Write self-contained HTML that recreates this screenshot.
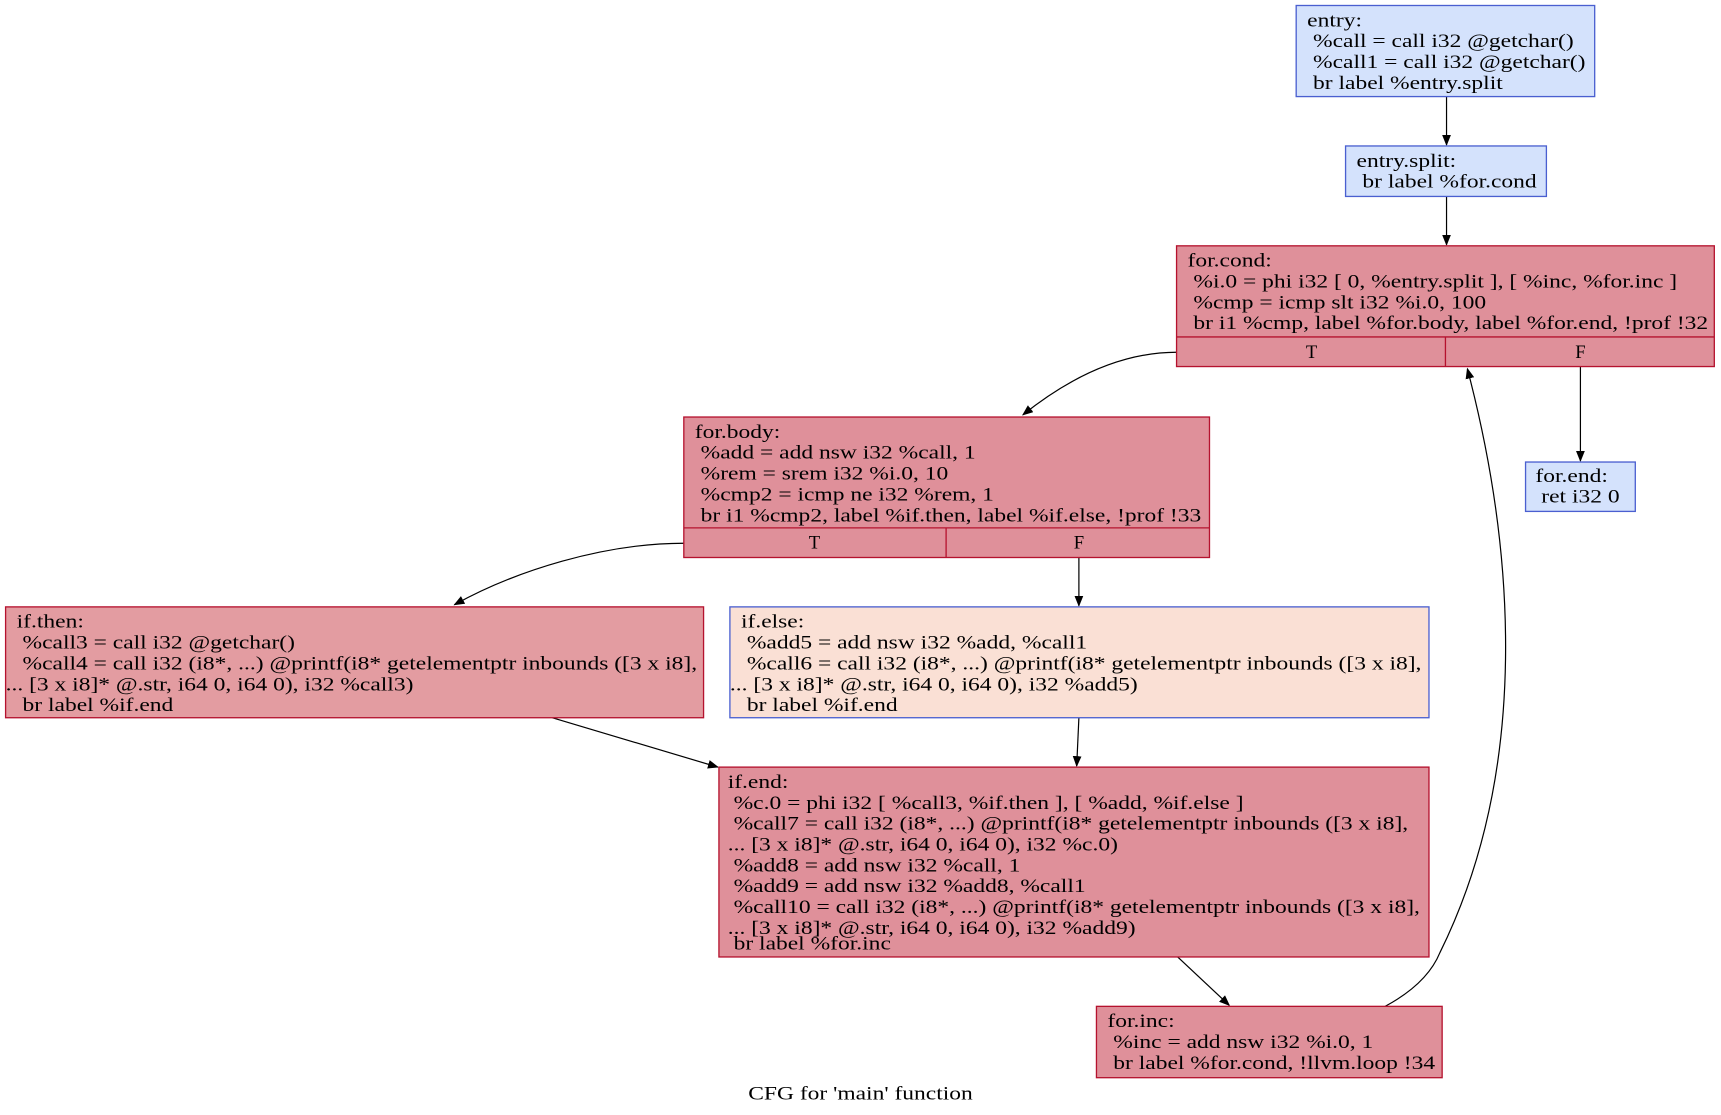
<!DOCTYPE html>
<html><head><meta charset="utf-8"><style>
html,body{margin:0;padding:0;background:#fff;}
svg{display:block;}
text{font-family:"Liberation Serif",serif;font-size:17px;fill:#000;white-space:pre;}
.b{fill:#d4e2fc;stroke:#4a5fd0;stroke-width:1.2}
.r{fill:#df909a;stroke:#b5122e;stroke-width:1.2}
.r2{fill:#e39ca1;stroke:#b5122e;stroke-width:1.2}
.o{fill:#fae0d5;stroke:#4a5fd0;stroke-width:1.2}
.e{fill:none;stroke:#000;stroke-width:1.1}
</style></head><body>
<svg width="1721" height="1115" viewBox="0 0 1568 1016" xmlns="http://www.w3.org/2000/svg">
<defs><marker id="a" markerWidth="10" markerHeight="8" refX="9" refY="4" orient="auto" markerUnits="userSpaceOnUse"><path d="M0,0 L10,4 L0,8 z" fill="#000"/></marker></defs>

<!-- edges -->
<path class="e" d="M1318,88 L1318,132" marker-end="url(#a)"/>
<path class="e" d="M1318,179 L1318,223" marker-end="url(#a)"/>
<path class="e" d="M1072,321 C1020,321 972,346 932,378" marker-end="url(#a)"/>
<path class="e" d="M1440,334 L1440,420" marker-end="url(#a)"/>
<path class="e" d="M623,495 C550,495 470,520 414,551" marker-end="url(#a)"/>
<path class="e" d="M983,508 L983,552" marker-end="url(#a)"/>
<path class="e" d="M503,654 L654,699" marker-end="url(#a)"/>
<path class="e" d="M983,654 L981,698" marker-end="url(#a)"/>
<path class="e" d="M1073,872 L1120,916" marker-end="url(#a)"/>
<path class="e" d="M1262,917 C1290,902 1305,885 1312,868 C1395,700 1380,500 1337,336" marker-end="url(#a)"/>

<!-- entry -->
<rect class="b" x="1181" y="5" width="272" height="83"/>
<g transform="matrix(1.26,0,0,1,-309.66,0)">
<text x="1191" y="24">entry:</text>
<text x="1191" y="43"> %call = call i32 @getchar()</text>
<text x="1191" y="62"> %call1 = call i32 @getchar()</text>
<text x="1191" y="81"> br label %entry.split</text>
</g>

<!-- entry.split -->
<rect class="b" x="1226" y="133" width="183" height="46"/>
<g transform="matrix(1.26,0,0,1,-321.36,0)">
<text x="1236" y="152">entry.split:</text>
<text x="1236" y="171"> br label %for.cond</text>
</g>

<!-- for.cond -->
<rect class="r" x="1072" y="224" width="490" height="110"/>
<line x1="1072" y1="307" x2="1562" y2="307" stroke="#b5122e" stroke-width="1.2"/>
<line x1="1317" y1="307" x2="1317" y2="334" stroke="#b5122e" stroke-width="1.2"/>
<g transform="matrix(1.26,0,0,1,-281.32,0)">
<text x="1082" y="243">for.cond:</text>
<text x="1082" y="262"> %i.0 = phi i32 [ 0, %entry.split ], [ %inc, %for.inc ]</text>
<text x="1082" y="281"> %cmp = icmp slt i32 %i.0, 100</text>
<text x="1082" y="300"> br i1 %cmp, label %for.body, label %for.end, !prof !32</text>
</g>
<text x="1195" y="326" text-anchor="middle">T</text>
<text x="1440" y="326" text-anchor="middle">F</text>

<!-- for.end -->
<rect class="b" x="1390" y="421" width="100" height="45"/>
<g transform="matrix(1.26,0,0,1,-363.74,0)">
<text x="1399" y="439">for.end:</text>
<text x="1399" y="458"> ret i32 0</text>
</g>

<!-- for.body -->
<rect class="r" x="623" y="380" width="479" height="128"/>
<line x1="623" y1="481" x2="1102" y2="481" stroke="#b5122e" stroke-width="1.2"/>
<line x1="862" y1="481" x2="862" y2="508" stroke="#b5122e" stroke-width="1.2"/>
<g transform="matrix(1.26,0,0,1,-164.58,0)">
<text x="633" y="399">for.body:</text>
<text x="633" y="418"> %add = add nsw i32 %call, 1</text>
<text x="633" y="437"> %rem = srem i32 %i.0, 10</text>
<text x="633" y="456"> %cmp2 = icmp ne i32 %rem, 1</text>
<text x="633" y="475"> br i1 %cmp2, label %if.then, label %if.else, !prof !33</text>
</g>
<text x="742" y="500" text-anchor="middle">T</text>
<text x="983" y="500" text-anchor="middle">F</text>

<!-- if.then -->
<rect class="r2" x="5" y="553" width="636" height="101"/>
<g transform="matrix(1.26,0,0,1,-1.3,0)">
<text x="13" y="572">if.then:</text>
<text x="13" y="591"> %call3 = call i32 @getchar()</text>
<text x="13" y="610"> %call4 = call i32 (i8*, ...) @printf(i8* getelementptr inbounds ([3 x i8],</text>
<text x="5" y="629">... [3 x i8]* @.str, i64 0, i64 0), i32 %call3)</text>
<text x="13" y="648"> br label %if.end</text>
</g>

<!-- if.else -->
<rect class="o" x="665" y="553" width="637" height="101"/>
<g transform="matrix(1.26,0,0,1,-172.9,0)">
<text x="673" y="572">if.else:</text>
<text x="673" y="591"> %add5 = add nsw i32 %add, %call1</text>
<text x="673" y="610"> %call6 = call i32 (i8*, ...) @printf(i8* getelementptr inbounds ([3 x i8],</text>
<text x="665" y="629">... [3 x i8]* @.str, i64 0, i64 0), i32 %add5)</text>
<text x="673" y="648"> br label %if.end</text>
</g>

<!-- if.end -->
<rect class="r" x="655" y="699" width="647" height="173"/>
<g transform="matrix(1.26,0,0,1,-172.38,0)">
<text x="663" y="718">if.end:</text>
<text x="663" y="737"> %c.0 = phi i32 [ %call3, %if.then ], [ %add, %if.else ]</text>
<text x="663" y="756"> %call7 = call i32 (i8*, ...) @printf(i8* getelementptr inbounds ([3 x i8],</text>
<text x="663" y="775">... [3 x i8]* @.str, i64 0, i64 0), i32 %c.0)</text>
<text x="663" y="794"> %add8 = add nsw i32 %call, 1</text>
<text x="663" y="813"> %add9 = add nsw i32 %add8, %call1</text>
<text x="663" y="832"> %call10 = call i32 (i8*, ...) @printf(i8* getelementptr inbounds ([3 x i8],</text>
<text x="663" y="851">... [3 x i8]* @.str, i64 0, i64 0), i32 %add9)</text>
<text x="663" y="865"> br label %for.inc</text>
</g>

<!-- for.inc -->
<rect class="r" x="999" y="917" width="315" height="65"/>
<g transform="matrix(1.26,0,0,1,-262.34,0)">
<text x="1009" y="936">for.inc:</text>
<text x="1009" y="955"> %inc = add nsw i32 %i.0, 1</text>
<text x="1009" y="974"> br label %for.cond, !llvm.loop !34</text>
</g>

<g transform="matrix(1.26,0,0,1,-203.84,0)">
<text x="784" y="1002" text-anchor="middle">CFG for 'main' function</text>
</g>
</svg>
</body></html>
